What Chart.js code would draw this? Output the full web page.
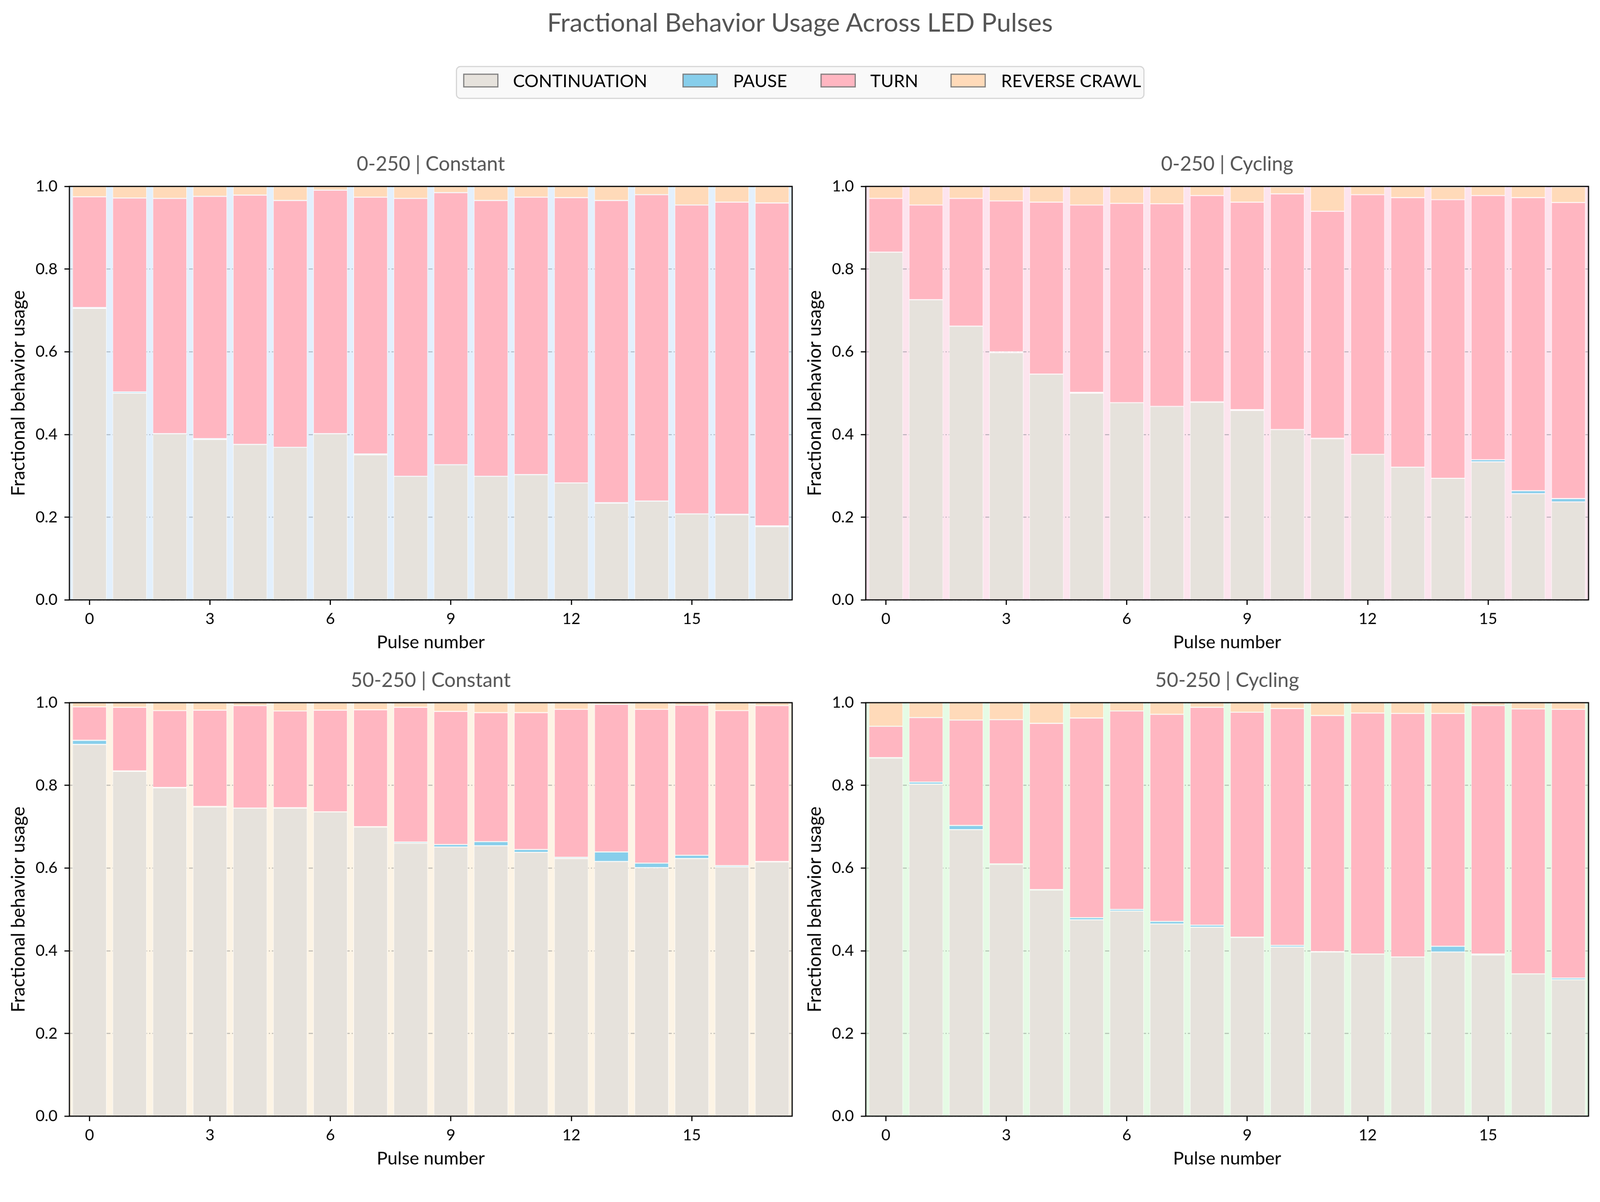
<!DOCTYPE html>
<html>
<head>
<meta charset="utf-8">
<script src="https://cdn.jsdelivr.net/npm/chart.js@4.4.1/dist/chart.umd.min.js"></script>
<style>
  html, body { margin: 0; padding: 0; background: #fff; overflow: hidden; }
  #fig { width: 4173px; height: 3076px; position: relative; overflow: hidden; transform-origin: 0 0; font-family: Lato, "Noto Sans", sans-serif; }
  #title { position: absolute; left: 0; top: 24px; width: 4173px; text-align: center; font-size: 67px; line-height: 66px; color: #555; }
  #legend { position: absolute; left: 1189px; top: 172px; width: 1796px; height: 86px; box-sizing: border-box;
            border: 3px solid #d6d6d6; border-radius: 12px; background: #f9f9f9; }
  .sw { position: absolute; top: 17px; width: 92px; height: 36px; box-sizing: border-box; border: 3px solid #808080; }
  .lt { position: absolute; top: 12px; font-size: 46px; line-height: 46px; color: #000; white-space: nowrap; }
  .panel { position: absolute; width: 2080px; height: 1323px; }
</style>
</head>
<body>
<div id="fig">
  <div id="title">Fractional Behavior Usage Across LED Pulses</div>
  <div id="legend"></div>
  <div class="panel" style="left:0;top:380px"><canvas id="c-tl" width="2080" height="1323"></canvas></div>
  <div class="panel" style="left:2077px;top:380px"><canvas id="c-tr" width="2080" height="1323"></canvas></div>
  <div class="panel" style="left:0;top:1726px"><canvas id="c-bl" width="2080" height="1323"></canvas></div>
  <div class="panel" style="left:2077px;top:1726px"><canvas id="c-br" width="2080" height="1323"></canvas></div>
</div>
<script>
// ── Data ──────────────────────────────────────────────────────────────────────
const PULSES = ["0","1","2","3","4","5","6","7","8","9","10","11","12","13","14","15","16","17"];
const BEHAVIORS = ["CONTINUATION", "PAUSE", "TURN", "REVERSE CRAWL"];
const BEHAVIOR_COLORS = ["#E6E2DC", "#87CEEB", "#FFB6C1", "#FFDAB9"];

// 0-250 | Constant
const TL_CONT  = [0.705, 0.500, 0.402, 0.388, 0.376, 0.369, 0.402, 0.351, 0.299, 0.327, 0.299, 0.303, 0.283, 0.234, 0.239, 0.208, 0.206, 0.177];
const TL_PAUSE = [0.002, 0.003, 0.000, 0.002, 0.000, 0.000, 0.000, 0.002, 0.000, 0.000, 0.000, 0.000, 0.000, 0.001, 0.000, 0.000, 0.001, 0.002];
const TL_TURN  = [0.268, 0.469, 0.569, 0.586, 0.603, 0.597, 0.589, 0.621, 0.672, 0.658, 0.667, 0.671, 0.690, 0.731, 0.741, 0.747, 0.755, 0.781];
const TL_REV   = [0.025, 0.028, 0.029, 0.024, 0.021, 0.034, 0.009, 0.026, 0.029, 0.015, 0.034, 0.026, 0.027, 0.034, 0.020, 0.045, 0.038, 0.040];

// 0-250 | Cycling
const TR_CONT  = [0.841, 0.726, 0.662, 0.598, 0.546, 0.500, 0.477, 0.468, 0.478, 0.458, 0.412, 0.390, 0.352, 0.321, 0.294, 0.334, 0.257, 0.237];
const TR_PAUSE = [0.000, 0.000, 0.000, 0.002, 0.000, 0.002, 0.000, 0.000, 0.001, 0.002, 0.000, 0.001, 0.000, 0.000, 0.000, 0.005, 0.007, 0.008];
const TR_TURN  = [0.130, 0.229, 0.309, 0.365, 0.416, 0.453, 0.482, 0.490, 0.499, 0.502, 0.570, 0.549, 0.628, 0.652, 0.674, 0.639, 0.709, 0.716];
const TR_REV   = [0.029, 0.045, 0.029, 0.035, 0.038, 0.045, 0.041, 0.042, 0.022, 0.038, 0.017, 0.060, 0.020, 0.027, 0.031, 0.022, 0.027, 0.038];

// 50-250 | Constant
const BL_CONT  = [0.899, 0.834, 0.794, 0.748, 0.745, 0.745, 0.736, 0.699, 0.660, 0.651, 0.654, 0.638, 0.623, 0.616, 0.601, 0.623, 0.603, 0.615];
const BL_PAUSE = [0.010, 0.001, 0.001, 0.001, 0.000, 0.001, 0.000, 0.001, 0.003, 0.006, 0.010, 0.007, 0.003, 0.023, 0.011, 0.008, 0.003, 0.001];
const BL_TURN  = [0.081, 0.154, 0.186, 0.233, 0.248, 0.234, 0.246, 0.283, 0.326, 0.322, 0.312, 0.331, 0.358, 0.357, 0.372, 0.363, 0.375, 0.377];
const BL_REV   = [0.010, 0.011, 0.019, 0.018, 0.007, 0.020, 0.018, 0.017, 0.011, 0.021, 0.024, 0.024, 0.016, 0.004, 0.016, 0.006, 0.019, 0.007];

// 50-250 | Cycling
const BR_CONT  = [0.866, 0.803, 0.693, 0.609, 0.547, 0.475, 0.496, 0.465, 0.457, 0.432, 0.409, 0.397, 0.392, 0.385, 0.397, 0.390, 0.344, 0.330];
const BR_PAUSE = [0.001, 0.005, 0.010, 0.001, 0.001, 0.005, 0.004, 0.006, 0.005, 0.001, 0.004, 0.001, 0.000, 0.000, 0.014, 0.002, 0.000, 0.004];
const BR_TURN  = [0.076, 0.156, 0.255, 0.349, 0.402, 0.483, 0.480, 0.501, 0.527, 0.544, 0.573, 0.571, 0.583, 0.589, 0.563, 0.601, 0.641, 0.650];
const BR_REV   = [0.057, 0.036, 0.042, 0.041, 0.050, 0.037, 0.020, 0.028, 0.011, 0.023, 0.014, 0.031, 0.025, 0.026, 0.026, 0.007, 0.015, 0.016];

const Y_TICKS = [0, 0.2, 0.4, 0.6, 0.8, 1.0];

// ── Style ─────────────────────────────────────────────────────────────────────
const FONT = "Lato, 'Noto Sans', sans-serif";

// fit the 4173x3076 figure into whatever CSS viewport we get
const fig = document.getElementById("fig");
const figScale = (window.innerWidth || 4173) / 4173;
if (Math.abs(figScale - 1) > 0.001) fig.style.transform = `scale(${figScale})`;

// ── Legend (HTML, above the grid of panels) ───────────────────────────────────
const LEGEND_SW_X = [16, 588, 948, 1287];
const LEGEND_TX_X = [146, 720, 1078, 1419];
const legendEl = document.getElementById("legend");
BEHAVIORS.forEach((name, i) => {
  const sw = document.createElement("div");
  sw.className = "sw";
  sw.style.left = LEGEND_SW_X[i] + "px";
  sw.style.background = BEHAVIOR_COLORS[i];
  legendEl.appendChild(sw);
  const tx = document.createElement("div");
  tx.className = "lt";
  tx.style.left = LEGEND_TX_X[i] + "px";
  tx.textContent = name;
  legendEl.appendChild(tx);
});

// ── Plugins: axes face colour + black frame ───────────────────────────────────
const axesFace = {
  id: "axesFace",
  beforeDraw(chart, args, opts) {
    const { ctx, chartArea: a } = chart;
    ctx.save();
    ctx.fillStyle = opts.color;
    ctx.fillRect(a.left, a.top, a.right - a.left, a.bottom - a.top);
    ctx.restore();
  },
};
const axesFrame = {
  id: "axesFrame",
  afterDatasetsDraw(chart) {
    const { ctx, chartArea: a } = chart;
    ctx.save();
    ctx.strokeStyle = "#000";
    ctx.lineWidth = 3;
    ctx.strokeRect(a.left, a.top, a.right - a.left, a.bottom - a.top);
    ctx.restore();
  },
};

function makePanel(canvasId, title, face, gridColor, series) {
  return new Chart(document.getElementById(canvasId), {
    type: "bar",
    data: {
      labels: PULSES,
      datasets: series.map((d, i) => ({
        label: BEHAVIORS[i], data: d, backgroundColor: BEHAVIOR_COLORS[i],
      })),
    },
    options: {
      animation: false, responsive: false, devicePixelRatio: 1,
      layout: { padding: { left: 0, right: 14, top: 0, bottom: 0 } },
      datasets: { bar: { categoryPercentage: 0.85, barPercentage: 1, borderColor: "#fff", borderWidth: 1.3, borderSkipped: false } },
      plugins: {
        legend: { display: false },
        tooltip: { enabled: false },
        // fullSize:false keeps the title centred over the plot area, like matplotlib
        title: { display: true, fullSize: false, text: title, color: "#555", font: { family: FONT, size: 52, weight: "normal" }, padding: { top: 16.8, bottom: 26.8 } },
        axesFace: { color: face },
      },
      scales: {
        x: {
          stacked: true,
          grid: { offset: false, drawOnChartArea: false, tickLength: 13, tickWidth: 3,
                  tickColor: (c) => (c.index % 3 === 0 ? "#000" : "rgba(0,0,0,0)") },
          border: { display: false },
          ticks: { autoSkip: false, maxRotation: 0, padding: 12, color: "#000", font: { family: FONT, size: 41 },
                   callback: (v, i) => (i % 3 === 0 ? PULSES[i] : "") },
          title: { display: true, text: "Pulse number", color: "#000", font: { family: FONT, size: 47 }, padding: 0 },
          afterFit: (s) => { s.height = 139; },
        },
        y: {
          stacked: true, min: 0, max: 1,
          afterBuildTicks: (s) => { s.ticks = Y_TICKS.map((v) => ({ value: v })); },
          grid: { color: gridColor, lineWidth: 2.5, tickLength: 13, tickWidth: 3, tickColor: "#000" },
          border: { display: false, dash: [11, 5, 3, 5] },
          ticks: { padding: 18, color: "#000", font: { family: FONT, size: 41 }, callback: (v) => Number(v).toFixed(1) },
          title: { display: true, text: "Fractional behavior usage", color: "#000", font: { family: FONT, size: 48 }, padding: { top: 20, bottom: 0 } },
          afterFit: (s) => { s.width = 181; },
        },
      },
    },
    plugins: [axesFace, axesFrame],
  });
}

makePanel("c-tl", "0-250 | Constant", "#e3f0fd", "rgba(140,150,160,0.6)", [TL_CONT, TL_PAUSE, TL_TURN, TL_REV]);
makePanel("c-tr", "0-250 | Cycling",  "#fde4ee", "rgba(140,140,150,0.6)", [TR_CONT, TR_PAUSE, TR_TURN, TR_REV]);
makePanel("c-bl", "50-250 | Constant", "#fdf4e5", "rgba(140,140,140,0.6)", [BL_CONT, BL_PAUSE, BL_TURN, BL_REV]);
makePanel("c-br", "50-250 | Cycling",  "#e5fbe5", "rgba(140,150,140,0.6)", [BR_CONT, BR_PAUSE, BR_TURN, BR_REV]);
</script>
</body>
</html>
